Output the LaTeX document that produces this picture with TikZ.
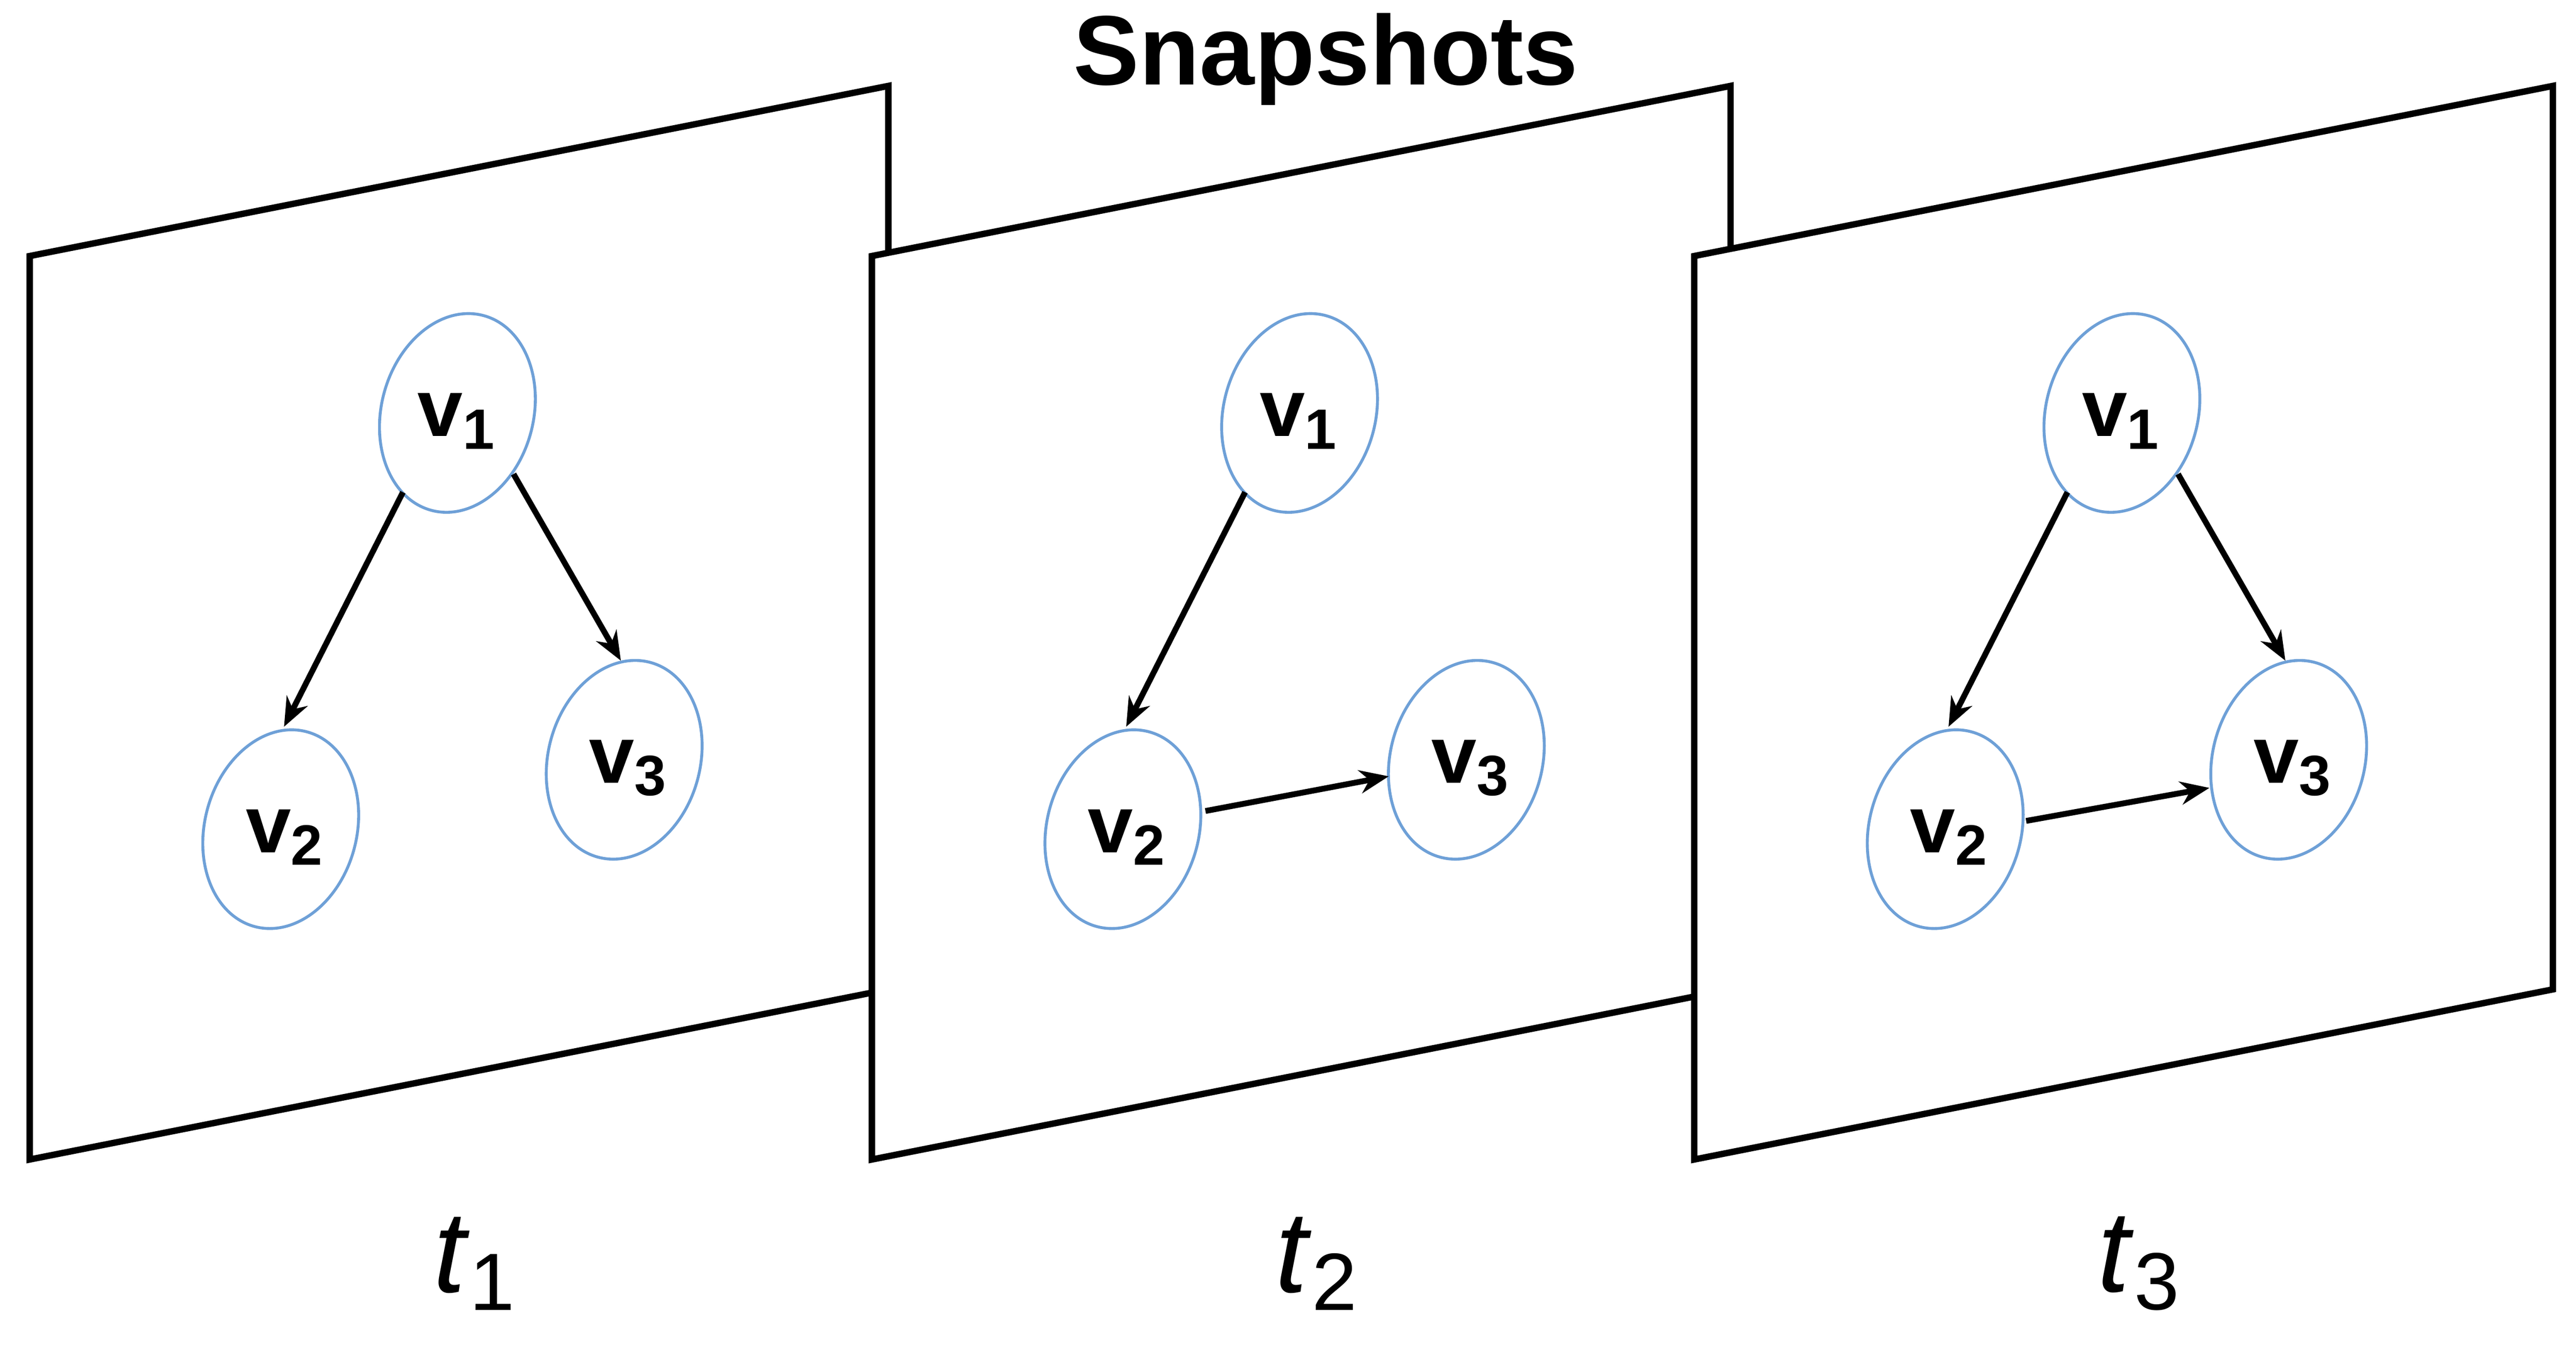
\documentclass[tikz,border=0pt]{standalone}
\usepackage{fontspec}
\setmainfont{Liberation Sans}
\usetikzlibrary{shapes.geometric,arrows.meta}
\begin{document}
\begin{tikzpicture}[x=0.01cm,y=-0.01cm,
 panel/.style={draw=black,line width=1.1pt,fill=white,line join=miter},
 vert/.style={ellipse,draw={rgb,255:red,110;green,160;blue,215},line width=0.5pt,minimum width=0.92cm,minimum height=1.22cm,rotate=-15,inner sep=0pt},
 lab/.style={font=\fontsize{14}{14}\selectfont\bfseries},
 edge/.style={line width=1pt,-{Stealth[length=5pt,width=4pt]}},
 tl/.style={font=\fontsize{20}{20}\selectfont}]
\useasboundingbox (0,0) rectangle (1560,814);
\node[font=\fontsize{17}{17}\selectfont\bfseries] (title) at (803,36) {Snapshots};
\foreach \dx/\i [count=\k] in {0/1,510/2,1008/3}{
  \draw[panel] (18+\dx,155) -- (538+\dx,52) -- (538+\dx,599) -- (18+\dx,702) -- cycle;
  \node[vert] (a\k) at (277+\dx,250) {};
  \node[vert] (b\k) at (170+\dx,502) {};
  \node[vert] (c\k) at (378+\dx,460) {};
  \node[lab] (la\k) at (277+\dx,255) {v\textsubscript{1}};
  \node[lab] (lb\k) at (173+\dx,507) {v\textsubscript{2}};
  \node[lab] (lc\k) at (381+\dx,465) {v\textsubscript{3}};
  \node[tl] (t\k) at (288+\dx,765) {\textit{t}\textsubscript{\i}};
  \coordinate (p1\k) at (244+\dx,298);
  \coordinate (p2\k) at (172+\dx,440);
  \coordinate (p3\k) at (311+\dx,287);
  \coordinate (p4\k) at (376+\dx,400);
}
\coordinate (q1) at (730,491); \coordinate (q2) at (841,470);
\coordinate (r1) at (1227,497); \coordinate (r2) at (1338,477);
\draw[edge] (p11) -- (p21);
\draw[edge] (p31) -- (p41);
\draw[edge] (p12) -- (p22);
\draw[edge] (q1) -- (q2);
\draw[edge] (p13) -- (p23);
\draw[edge] (p33) -- (p43);
\draw[edge] (r1) -- (r2);
\end{tikzpicture}
\end{document}
